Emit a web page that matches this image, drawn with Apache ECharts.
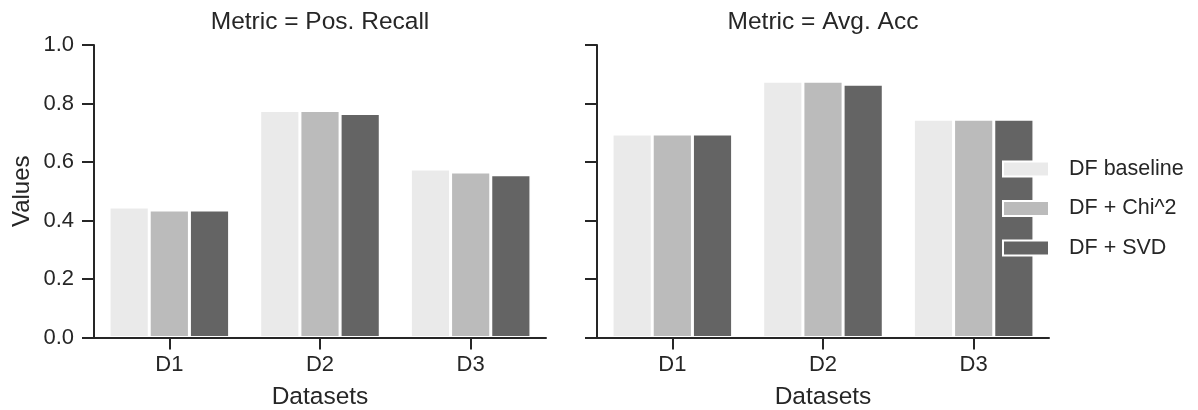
<!DOCTYPE html>
<html>
<head>
<meta charset="utf-8">
<script src="https://cdn.jsdelivr.net/npm/echarts@6/dist/echarts.min.js"></script>
<style>
html,body{margin:0;padding:0;background:#fff;}
#chart{width:1198px;height:410px;}
</style>
</head>
<body>
<div id="chart"></div>
<script>
const categories = ['D1', 'D2', 'D3'];
const metrics = ['Metric = Pos. Recall', 'Metric = Avg. Acc'];
const seriesNames = ['DF baseline', 'DF + Chi^2', 'DF + SVD'];
const recallBaseline = [0.446, 0.776, 0.576];
const recallChi2 = [0.436, 0.776, 0.566];
const recallSVD = [0.436, 0.766, 0.556];
const accBaseline = [0.696, 0.876, 0.746];
const accChi2 = [0.696, 0.876, 0.746];
const accSVD = [0.696, 0.866, 0.746];
const yTicks = [0, 0.2, 0.4, 0.6, 0.8, 1.0];
const colors = ['#EAEAEA', '#BBBBBB', '#646464'];

const panelData = [
  [recallBaseline, recallChi2, recallSVD],
  [accBaseline, accChi2, accSVD]
];

const FONT = "'Liberation Sans', Arial, sans-serif";
const INK = '#262626';
const grids = [
  {left: 94, top: 45, width: 452, height: 292.5},
  {left: 597, top: 45, width: 452, height: 292.5}
];

const xAxes = grids.map((g, i) => ({
  type: 'category', gridIndex: i, data: categories, z: 10, position: 'bottom',
  name: 'Datasets', nameLocation: 'middle', nameGap: 47,
  nameTextStyle: {fontSize: 24.5, color: INK, fontFamily: FONT},
  axisLine: {show: true, lineStyle: {color: INK, width: 2}},
  axisTick: {show: true, alignWithLabel: true, length: 12, lineStyle: {color: INK, width: 2}},
  axisLabel: {show: true, interval: 0, fontSize: 22, color: INK, fontFamily: FONT, margin: 16},
  splitLine: {show: false}
}));

const yAxes = grids.map((g, i) => ({
  type: 'value', gridIndex: i, min: yTicks[0], max: yTicks[yTicks.length - 1], interval: 0.2, z: 10,
  name: i === 0 ? 'Values' : '', nameLocation: 'middle', nameGap: 60,
  nameTextStyle: {fontSize: 24, color: INK, fontFamily: FONT},
  axisLine: {show: true, lineStyle: {color: INK, width: 2}},
  axisTick: {show: true, length: 12, lineStyle: {color: INK, width: 2}},
  axisLabel: {show: i === 0, fontSize: 22, color: INK, fontFamily: FONT, margin: 20,
    formatter: v => v.toFixed(1)},
  splitLine: {show: false}
}));

const series = [];
panelData.forEach((arrs, p) => {
  arrs.forEach((arr, s) => {
    series.push({
      type: 'bar', name: seriesNames[s], xAxisIndex: p, yAxisIndex: p,
      data: arr, barWidth: '26.67%', barGap: '0%',
      itemStyle: {color: colors[s], borderColor: '#ffffff', borderWidth: 1.5},
      emphasis: {disabled: true}
    });
  });
});

const chart = echarts.init(document.getElementById('chart'), null, {renderer: 'canvas'});
chart.setOption({
  animation: false,
  backgroundColor: '#ffffff',
  title: metrics.map((t, i) => ({
    text: t, left: grids[i].left + grids[i].width / 2, top: 10, textAlign: 'center', padding: 0,
    textStyle: {fontSize: 24.5, fontWeight: 'normal', color: INK, fontFamily: FONT}
  })),
  legend: {
    data: seriesNames, orient: 'vertical', left: 1002, top: 158,
    itemWidth: 46, itemHeight: 15, itemGap: 17.5, padding: 0,
    icon: 'rect',
    textStyle: {fontSize: 21.5, color: INK, fontFamily: FONT, padding: [0, 0, 0, 15]}
  },
  grid: grids.map(g => Object.assign({containLabel: false, outerBoundsMode: 'none'}, g)),
  xAxis: xAxes,
  yAxis: yAxes,
  series: series
});
</script>
</body>
</html>
